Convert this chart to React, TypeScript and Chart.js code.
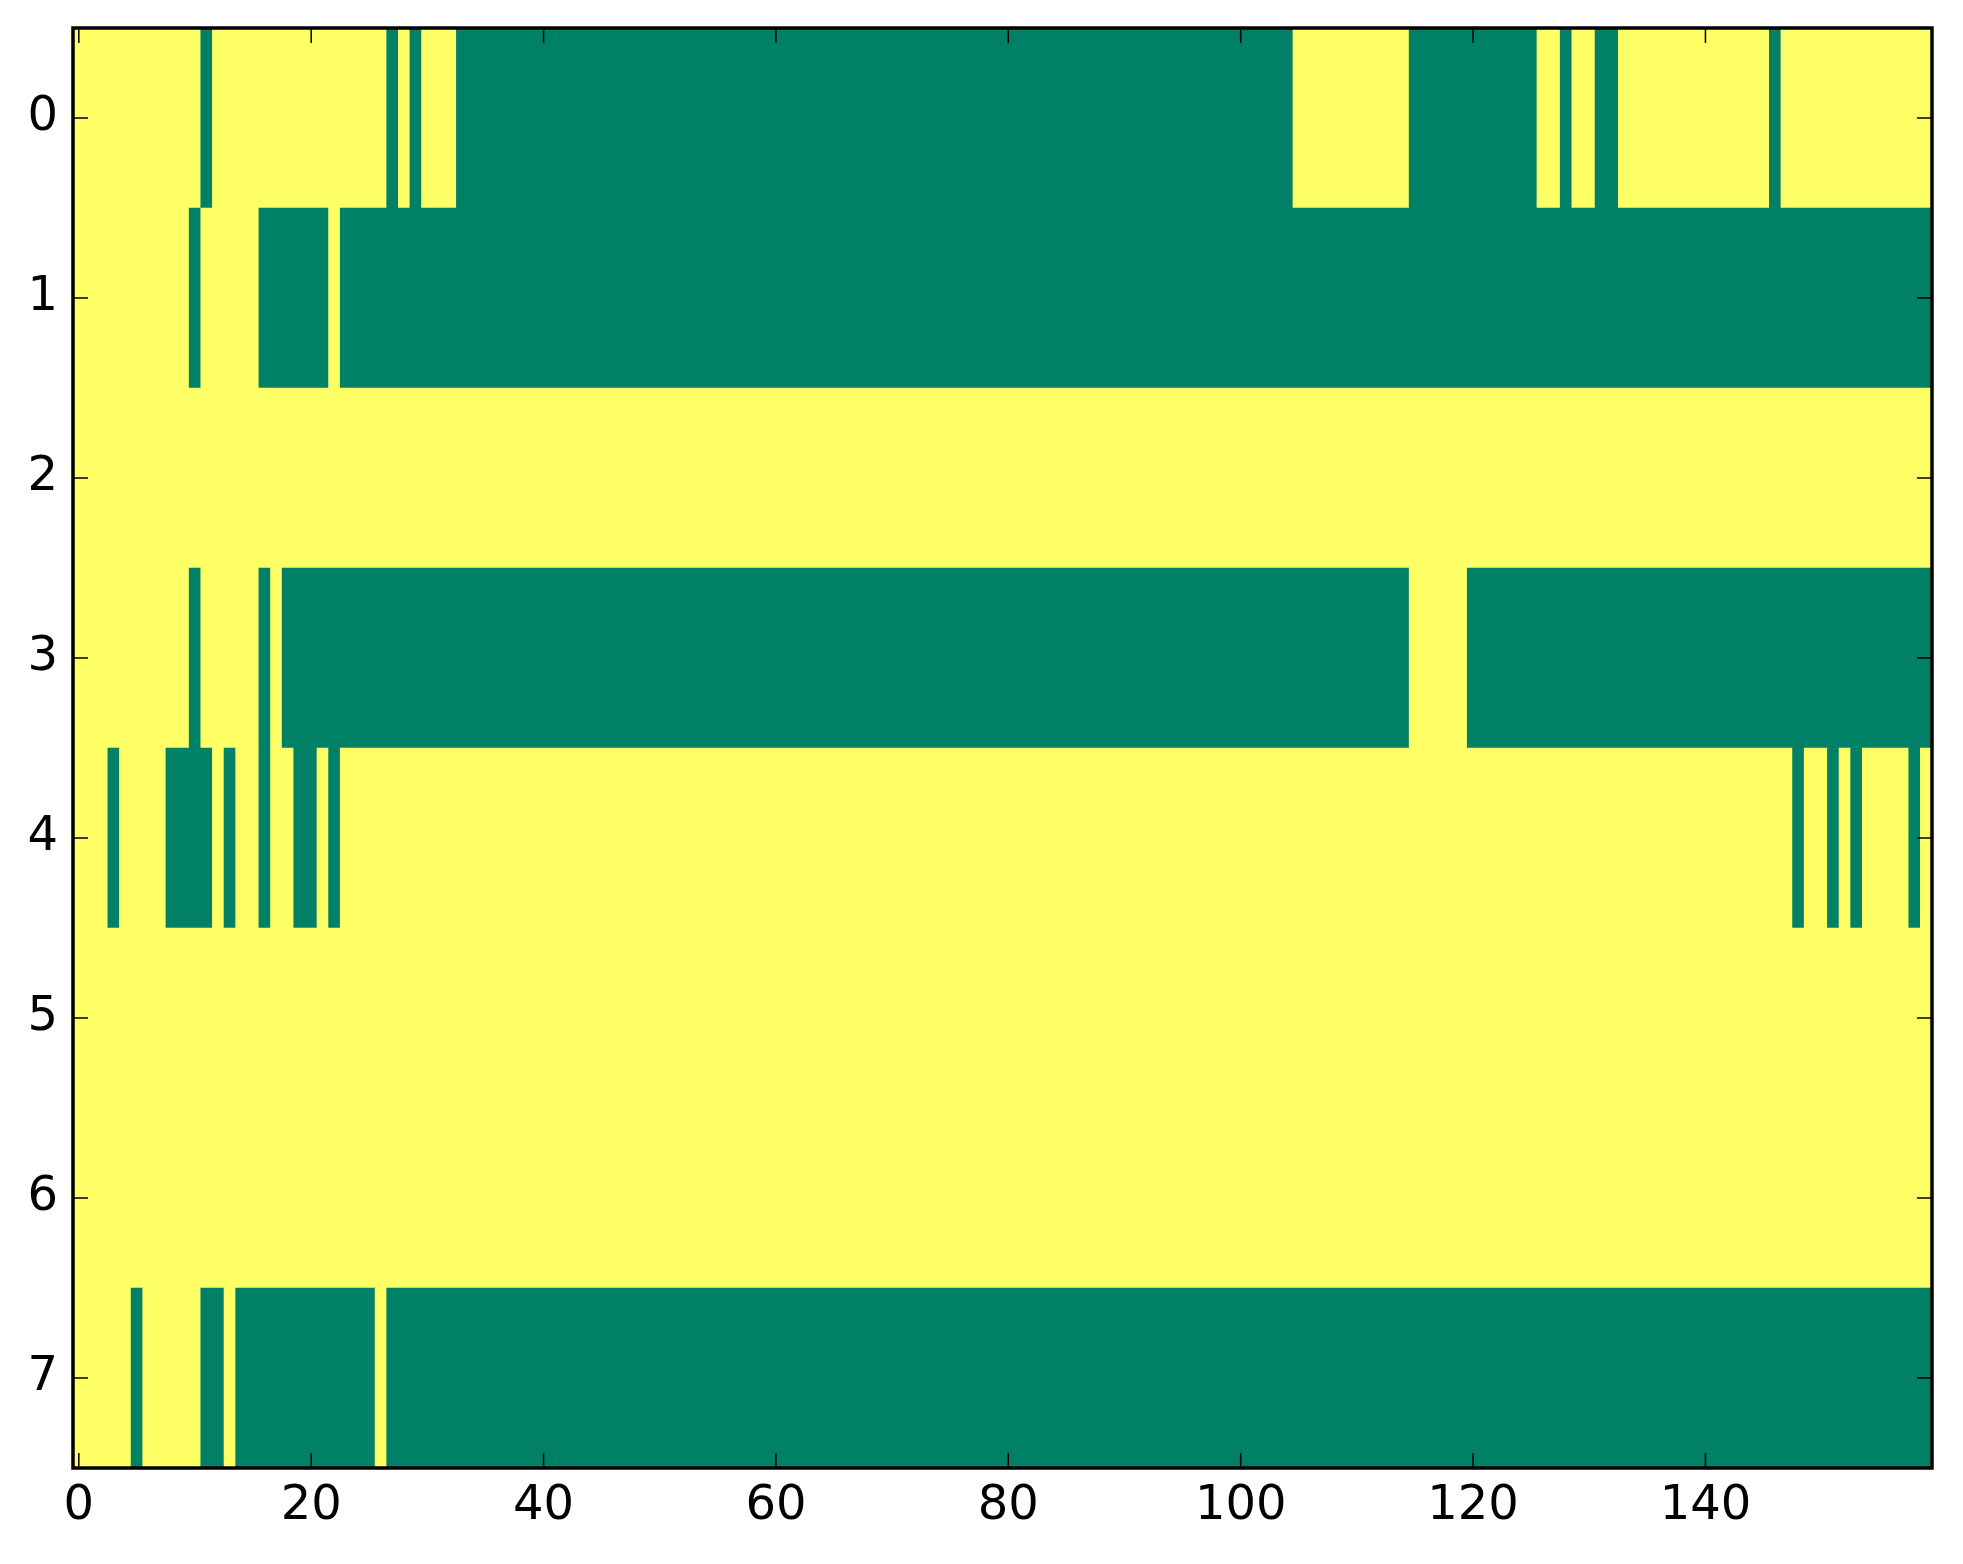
import React, { useEffect, useRef } from 'react';
import { Chart, registerables } from 'chart.js';

Chart.register(...registerables);

// binary matrix, 8 rows x 160 columns: value 1 = yellow, 0 = green
const rowLabels = ['0', '1', '2', '3', '4', '5', '6', '7'];
const xTicks = [0, 20, 40, 60, 80, 100, 120, 140];
const nCols = 160;

// runs of green (value 0) cells per row, [first column, last column]
const greenRuns0 = [[11, 11], [27, 27], [29, 29], [33, 104], [115, 125], [128, 128], [131, 132], [146, 146]];
const greenRuns1 = [[10, 10], [16, 21], [23, 159]];
const greenRuns2: number[][] = [];
const greenRuns3 = [[10, 10], [16, 16], [18, 114], [120, 159]];
const greenRuns4 = [[3, 3], [8, 11], [13, 13], [16, 16], [19, 20], [22, 22], [148, 148], [151, 151], [153, 153], [158, 158]];
const greenRuns5: number[][] = [];
const greenRuns6: number[][] = [];
const greenRuns7 = [[5, 5], [11, 12], [14, 25], [27, 159]];

const greenRuns = [greenRuns0, greenRuns1, greenRuns2, greenRuns3, greenRuns4, greenRuns5, greenRuns6, greenRuns7];

const YELLOW = '#ffff66';
const GREEN = '#008066';

type Seg = { x: [number, number]; y: number; v: number };

function rowSegments(runs: number[][], row: number): Seg[] {
  const segs: Seg[] = [];
  let pos = 0;
  for (const [a, b] of runs) {
    if (a > pos) segs.push({ x: [pos - 0.5, a - 0.5], y: row, v: 1 });
    segs.push({ x: [a - 0.5, b + 0.5], y: row, v: 0 });
    pos = b + 1;
  }
  if (pos < nCols) segs.push({ x: [pos - 0.5, nCols - 0.5], y: row, v: 1 });
  return segs;
}

// matplotlib-like frame with inward ticks on all four sides
const framePlugin = {
  id: 'frame',
  afterDraw(chart: any) {
    const { ctx, chartArea: a, scales } = chart;
    const len = 15;
    ctx.save();
    ctx.strokeStyle = '#000';
    ctx.lineWidth = 1.5;
    ctx.beginPath();
    for (const t of scales.x.ticks) {
      const px = scales.x.getPixelForValue(t.value);
      ctx.moveTo(px, a.top);
      ctx.lineTo(px, a.top + len);
      ctx.moveTo(px, a.bottom);
      ctx.lineTo(px, a.bottom - len);
    }
    for (const t of scales.y.ticks) {
      const py = scales.y.getPixelForValue(t.value);
      ctx.moveTo(a.left, py);
      ctx.lineTo(a.left + len, py);
      ctx.moveTo(a.right, py);
      ctx.lineTo(a.right - len, py);
    }
    ctx.stroke();
    ctx.lineWidth = 3.5;
    ctx.strokeRect(a.left, a.top, a.right - a.left, a.bottom - a.top);
    ctx.restore();
  },
};

const HeatStrip = () => {
  const canvasRef = useRef<HTMLCanvasElement>(null);
  const chartRef = useRef<Chart | null>(null);

  useEffect(() => {
    const ctx = canvasRef.current?.getContext('2d');
    if (chartRef.current) chartRef.current.destroy();
    if (!ctx) return;

    const cells = greenRuns.flatMap((runs, row) => rowSegments(runs, row));

    chartRef.current = new Chart(ctx, {
      type: 'bar',
      data: {
        datasets: [
          {
            data: cells as any,
            backgroundColor: (c: any) => (c.raw && c.raw.v === 1 ? YELLOW : GREEN),
            borderWidth: 0,
            barPercentage: 1,
            categoryPercentage: 1,
          },
        ],
      },
      plugins: [framePlugin],
      options: {
        indexAxis: 'y',
        animation: false,
        responsive: true,
        maintainAspectRatio: false,
        devicePixelRatio: 1,
        layout: { padding: { top: 28, right: 31, left: 0, bottom: 0 } },
        plugins: { legend: { display: false }, tooltip: { enabled: false } },
        scales: {
          x: {
            type: 'linear',
            min: -0.5,
            max: nCols - 0.5,
            offset: false,
            grid: { display: false, drawTicks: false },
            border: { display: false },
            afterBuildTicks: (scale: any) => {
              scale.ticks = xTicks.map((v) => ({ value: v }));
            },
            afterFit: (scale: any) => {
              scale.height = 96;
              scale.paddingLeft = 0;
              scale.paddingRight = 0;
              scale.paddingTop = 0;
              scale.paddingBottom = 0;
            },
            ticks: {
              autoSkip: false,
              maxRotation: 0,
              padding: 10,
              color: '#000',
              font: { family: 'DejaVu Sans', size: 48 },
            },
          },
          y: {
            type: 'linear',
            reverse: true,
            min: -0.5,
            max: rowLabels.length - 0.5,
            offset: false,
            grid: { display: false, drawTicks: false },
            border: { display: false },
            afterBuildTicks: (scale: any) => {
              scale.ticks = rowLabels.map((_, i) => ({ value: i }));
            },
            afterFit: (scale: any) => {
              scale.width = 73;
              scale.paddingLeft = 0;
              scale.paddingRight = 0;
              scale.paddingTop = 0;
              scale.paddingBottom = 0;
            },
            ticks: {
              autoSkip: false,
              padding: 15,
              color: '#000',
              font: { family: 'DejaVu Sans', size: 48 },
              callback: (v: any) => rowLabels[v as number],
            },
          },
        },
      },
    });

    return () => {
      if (chartRef.current) {
        chartRef.current.destroy();
        chartRef.current = null;
      }
    };
  }, []);

  return (
    <div style={{ position: 'absolute', left: 0, top: 0, width: '1963px', height: '1564px', background: '#fff' }}>
      <canvas ref={canvasRef} />
    </div>
  );
};

export default function App() {
  return <HeatStrip />;
}
